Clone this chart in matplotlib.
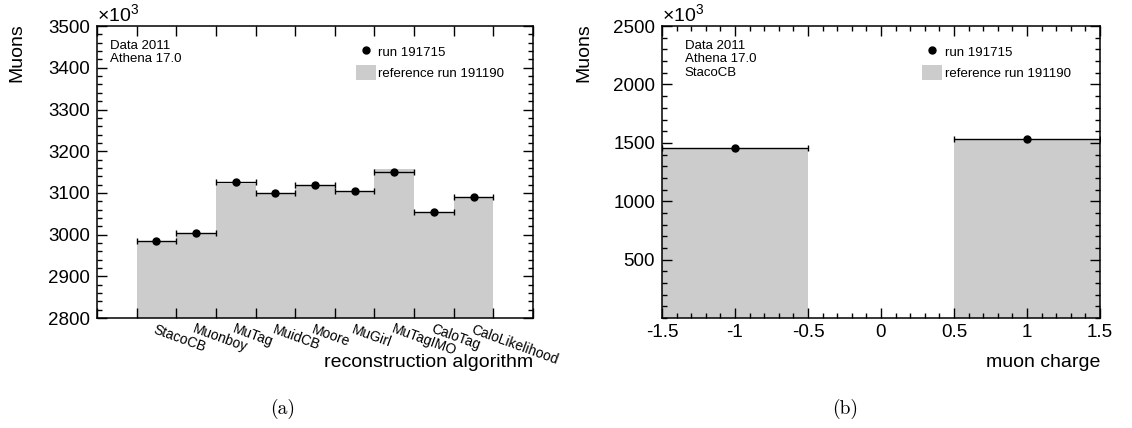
import numpy as np
import matplotlib
matplotlib.use("Agg")
from matplotlib import pyplot as plt
from matplotlib.lines import Line2D
from matplotlib.patches import Patch

plt.rcParams['font.family'] = ['Liberation Sans', 'DejaVu Sans']
plt.rcParams['mathtext.fontset'] = 'custom'
plt.rcParams['mathtext.rm'] = 'Liberation Sans'
plt.rcParams['axes.unicode_minus'] = False

# muon counts in units of 10^3
algorithms = ['StacoCB', 'Muonboy', 'MuTag', 'MuidCB', 'Moore',
              'MuGirl', 'MuTagIMO', 'CaloTag', 'CaloLikelihood']
run_alg = [2984, 3005, 3126, 3099, 3120, 3105, 3149, 3055, 3090]
ref_alg = [2985, 3004, 3122, 3098, 3118, 3104, 3157, 3054, 3091]

charges = [-1, 1]
run_charge = [1455, 1534]
ref_charge = [1455, 1537]

run_name = 'run 191715'
ref_name = 'reference run 191190'
grey = '#cccccc'

fig = plt.figure(figsize=(11.32, 4.28), dpi=100)
ax1 = fig.add_axes([0.0857, 0.257, 0.3852, 0.682])
ax2 = fig.add_axes([0.5848, 0.257, 0.3869, 0.682])


def root_style(ax):
    ax.tick_params(which='both', direction='in', top=True, right=True,
                   labelsize=13.5, width=1)
    ax.tick_params(which='major', length=7)
    ax.tick_params(which='minor', length=3.5)
    ax.tick_params(axis='y', pad=5)
    for s in ax.spines.values():
        s.set_linewidth(1.1)


def legend(ax):
    handles = [Line2D([], [], marker='o', ls='none', color='black', ms=5),
               Patch(facecolor=grey, edgecolor='none')]
    ax.legend(handles, [run_name, ref_name], loc='upper left',
              bbox_to_anchor=(0.594, 0.939), frameon=False, fontsize=9.5,
              borderpad=0, borderaxespad=0, handlelength=1.5,
              handleheight=1.36, handletextpad=0.2, labelspacing=0.45)


# (a) reconstruction algorithm
x = np.arange(1, len(algorithms) + 1)
ax1.bar(x, ref_alg, width=1, color=grey, linewidth=0)
ax1.errorbar(x, run_alg, xerr=0.5, fmt='o', color='black', ms=5,
             elinewidth=1, capsize=2.5, capthick=1)
ax1.set_xlim(-0.5, 10.5)
ax1.set_ylim(2800, 3500)
root_style(ax1)
ax1.set_xticks(np.arange(-0.5, 11, 1))
ax1.set_xticklabels([])
ax1.set_xticks(x, algorithms, minor=True)
ax1.tick_params(axis='x', which='minor', length=0, labelsize=10, pad=3)
for lab in ax1.get_xticklabels(minor=True):
    lab.set_rotation(-20)
    lab.set_ha('left')
    lab.set_va('top')
    lab.set_rotation_mode('anchor')
ax1.set_yticks(np.arange(2800, 3501, 100))
ax1.yaxis.set_minor_locator(plt.MultipleLocator(20))
ax1.set_xlabel('reconstruction algorithm', fontsize=14, ha='right')
ax1.xaxis.set_label_coords(1.0, -0.125)
ax1.set_ylabel('Muons', fontsize=14, ha='right')
ax1.yaxis.set_label_coords(-0.165, 1.01)
ax1.text(0, 1.0, r'$\times10^{3}$', transform=ax1.transAxes,
         fontsize=14, ha='left', va='bottom')
ax1.text(0.03, 0.952, 'Data 2011\nAthena 17.0', transform=ax1.transAxes,
         fontsize=9.5, ha='left', va='top', linespacing=1.15)
legend(ax1)

# (b) muon charge
ax2.bar(charges, ref_charge, width=1, color=grey, linewidth=0)
ax2.errorbar(charges, run_charge, xerr=0.5, fmt='o', color='black', ms=5,
             elinewidth=1, capsize=2.5, capthick=1)
ax2.set_xlim(-1.5, 1.5)
ax2.set_ylim(0, 2500)
root_style(ax2)
ax2.tick_params(axis='x', pad=4)
ax2.set_xticks([-1.5, -1, -0.5, 0, 0.5, 1, 1.5],
               ['-1.5', '-1', '-0.5', '0', '0.5', '1', '1.5'])
ax2.xaxis.set_minor_locator(plt.MultipleLocator(0.1))
ax2.set_yticks([500, 1000, 1500, 2000, 2500])
ax2.yaxis.set_minor_locator(plt.MultipleLocator(100))
ax2.set_xlabel('muon charge', fontsize=14, ha='right')
ax2.xaxis.set_label_coords(1.0, -0.125)
ax2.set_ylabel('Muons', fontsize=14, ha='right')
ax2.yaxis.set_label_coords(-0.158, 1.01)
ax2.text(0, 1.0, r'$\times10^{3}$', transform=ax2.transAxes,
         fontsize=14, ha='left', va='bottom')
ax2.text(0.052, 0.952, 'Data 2011\nAthena 17.0\nStacoCB',
         transform=ax2.transAxes, fontsize=9.5, ha='left', va='top',
         linespacing=1.15)
legend(ax2)

fig.text(283 / 1132, 1 - 409 / 428, '(a)', fontfamily='cmr10', fontsize=14,
         ha='center', va='center')
fig.text(845 / 1132, 1 - 409 / 428, '(b)', fontfamily='cmr10', fontsize=14,
         ha='center', va='center')

fig.savefig('out.png', dpi=100)
